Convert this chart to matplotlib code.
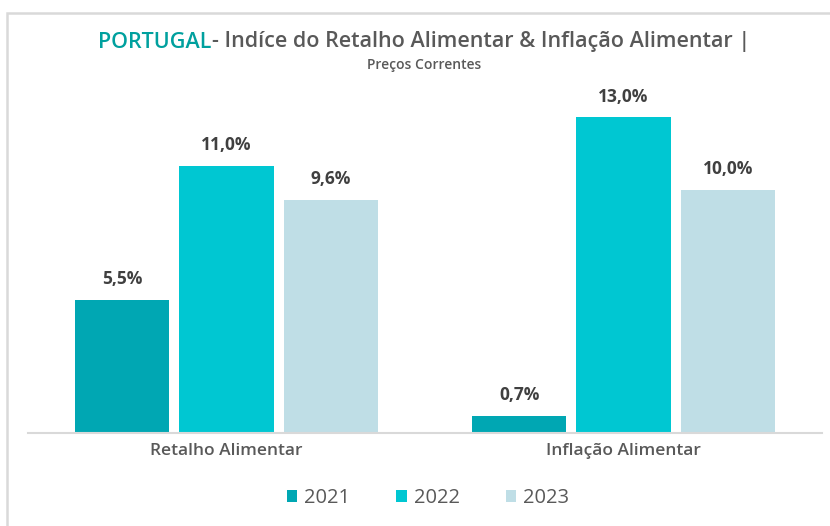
import matplotlib
matplotlib.use("Agg")
import matplotlib.pyplot as plt
from matplotlib.patches import Rectangle, Patch
import numpy as np

categories = ["Retalho Alimentar", "Inflação Alimentar"]
years = ["2021", "2022", "2023"]
values = {
    "2021": [5.5, 0.7],
    "2022": [11.0, 13.0],
    "2023": [9.6, 10.0],
}
colors = {"2021": "#00A7B3", "2022": "#00C7D2", "2023": "#BFDEE6"}

plt.rcParams['font.family'] = ['Open Sans', 'DejaVu Sans']
TXT = "#595959"
LBL = "#404040"

W, H = 830, 526
fig = plt.figure(figsize=(W / 100, H / 100), dpi=100)
fig.patch.set_facecolor("white")

# outer border
fig.patches.append(Rectangle((7 / W, -0.1), 1.2, (H - 12.5) / H + 0.1, transform=fig.transFigure,
                             fill=False, edgecolor="#D9D9D9", linewidth=1.8))

base_y = 433
ppu = 24.27
ymax = 14.0
ax = fig.add_axes([28 / W, (H - base_y) / H, (822 - 28) / W, ymax * ppu / H])
ax.set_xlim(-0.5, 1.5)
ax.set_ylim(0, ymax)

x = np.arange(len(categories))
step = 104 / 396
width = 94 / 396
for i, yr in enumerate(years):
    pos = x + (i - 1) * step
    bars = ax.bar(pos, values[yr], width, color=colors[yr], label=yr, zorder=2)
    for b, v in zip(bars, values[yr]):
        ax.annotate(f"{v:.1f}".replace(".", ",") + "%", (b.get_x() + b.get_width() / 2, v),
                    xytext=(0, 8.5), textcoords="offset points", ha="center", va="bottom",
                    fontsize=12.5, fontweight="bold", color=LBL)

for s in ["top", "right", "left"]:
    ax.spines[s].set_visible(False)
ax.spines["bottom"].set_color("#D9D9D9")
ax.spines["bottom"].set_linewidth(1.5)
ax.set_yticks([])
ax.set_xticks(x)
ax.set_xticklabels(categories, fontsize=12.5, fontweight="semibold", color=TXT)
ax.tick_params(axis="x", length=0, pad=7)

# title
t1 = "PORTUGAL"
t2 = "- Indíce do Retalho Alimentar & Inflação Alimentar |"
FS = 15.5
r = fig.canvas.get_renderer()
tmp1 = fig.text(0, 0, t1, fontsize=FS, fontweight="semibold")
tmp2 = fig.text(0, 0, t2, fontsize=FS, fontweight="semibold")
w1 = tmp1.get_window_extent(r).width
w2 = tmp2.get_window_extent(r).width
tmp1.remove(); tmp2.remove()
cx = 424
x0 = cx - (w1 + w2) / 2
ty = (H - 42) / H
fig.text(x0 / W, ty, t1, fontsize=FS, fontweight="semibold", color="#00A09E", va="center")
fig.text((x0 + w1) / W, ty, t2, fontsize=FS, fontweight="semibold", color=TXT, va="center")
fig.text(424 / W, (H - 65) / H, "Preços Correntes", fontsize=10, fontweight="semibold",
         color=TXT, ha="center", va="center")

handles = [Patch(facecolor=colors[y], edgecolor="none") for y in years]
fig.legend(handles, years, loc="center", bbox_to_anchor=(428 / W, (H - 498) / H), ncol=3,
           frameon=False, fontsize=14.5, labelcolor=TXT, handlelength=0.5, handleheight=0.6,
           handletextpad=0.35, columnspacing=2.3)

fig.savefig("out.png", dpi=100, facecolor="white")
